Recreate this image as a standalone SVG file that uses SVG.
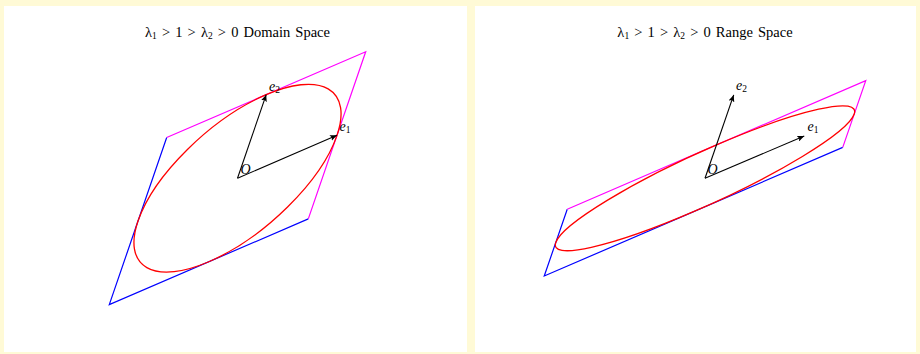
<svg xmlns="http://www.w3.org/2000/svg" width="920" height="354" viewBox="0 0 920 354">
<style>
.title{font-family:"Liberation Serif",serif;font-size:14.5px;fill:#000;text-anchor:middle}
.lbl{font-family:"Liberation Serif",serif;font-style:italic;font-size:14px;fill:#000}
.sub{font-size:9.5px;font-style:normal}
.blue{stroke:#0000ff;stroke-width:1.2;fill:none}
.mag{stroke:#ff00ff;stroke-width:1.2;fill:none}
.ell{stroke:#ff0000;stroke-width:1.3;fill:none}
.vec{stroke:#000;stroke-width:1.1;fill:none;marker-end:url(#arr)}
</style>
<defs>
<marker id="arr" markerWidth="8" markerHeight="6" refX="7" refY="3" orient="auto" markerUnits="userSpaceOnUse">
<path d="M0,0 L7,3 L0,6 L1.5,3 Z" fill="#000"/>
</marker>
</defs>
<rect width="920" height="354" fill="#fffad6"/>
<rect x="4" y="6" width="463" height="346" fill="#fff"/>
<rect x="475" y="6" width="441" height="346" fill="#fff"/>

<g id="left-title"><text class="title" x="237.5" y="37" word-spacing="1.5">λ<tspan class="sub" dy="2">1</tspan><tspan dy="-2"> &gt; 1 &gt; λ</tspan><tspan class="sub" dy="2">2</tspan><tspan dy="-2"> &gt; 0 Domain Space</tspan></text></g>
<g id="right-title"><text class="title" x="705" y="37" word-spacing="1.5">λ<tspan class="sub" dy="2">1</tspan><tspan dy="-2"> &gt; 1 &gt; λ</tspan><tspan class="sub" dy="2">2</tspan><tspan dy="-2"> &gt; 0 Range Space</tspan></text></g>

<g id="left-parallelogram">
<polyline class="blue" points="166.7,137.5 109.3,304.6 308.3,218.9"/>
<polyline class="mag" points="166.7,137.5 365.7,51.8 308.3,218.9"/>
</g>
<g id="left-ellipse">
<circle class="ell" r="1" vector-effect="non-scaling-stroke" transform="matrix(99.5,-42.85,28.7,-83.55,237.5,178.2)"/>
</g>
<g id="right-parallelogram">
<polyline class="blue" points="567.25,209.2 544.25,276 842.75,147.4"/>
<polyline class="mag" points="567.25,209.2 865.75,80.6 842.75,147.4"/>
</g>
<g id="right-ellipse">
<circle class="ell" r="1" vector-effect="non-scaling-stroke" transform="matrix(149.25,-64.3,11.5,-33.4,705,178.3)"/>
</g>

<g id="connectors">
<line class="vec" x1="237.5" y1="178.2" x2="337" y2="135.35"/>
<line class="vec" x1="237.5" y1="178.2" x2="266.2" y2="94.65"/>
<line class="vec" x1="705" y1="178.3" x2="804.25" y2="136"/>
<line class="vec" x1="705" y1="178.3" x2="733.7" y2="94.9"/>
</g>

<g id="left-labels">
<text class="lbl" x="240.5" y="174">O</text>
<text class="lbl" x="269" y="91">e<tspan class="sub" dy="2">2</tspan></text>
<text class="lbl" x="339.5" y="131">e<tspan class="sub" dy="2">1</tspan></text>
</g>
<g id="right-labels">
<text class="lbl" x="707.5" y="174">O</text>
<text class="lbl" x="736" y="90">e<tspan class="sub" dy="2">2</tspan></text>
<text class="lbl" x="807.5" y="131">e<tspan class="sub" dy="2">1</tspan></text>
</g>
</svg>
